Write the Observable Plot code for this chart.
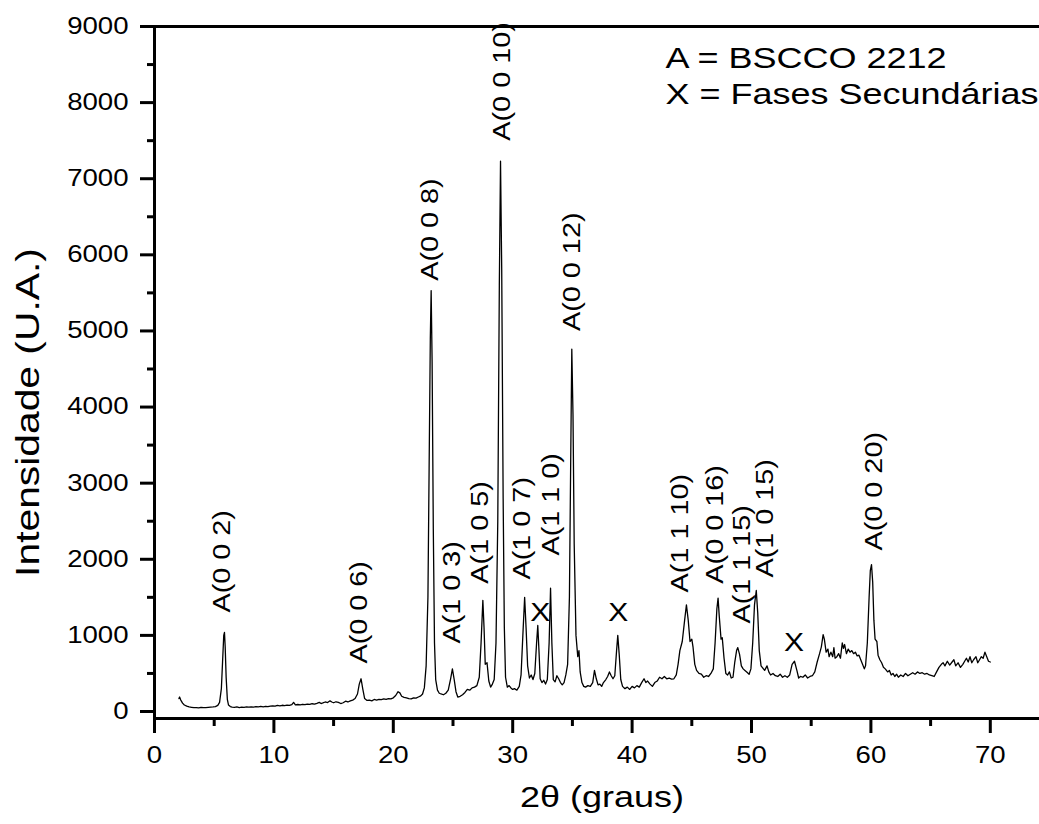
<!DOCTYPE html>
<html>
<head>
<meta charset="utf-8">
<script src="https://cdn.jsdelivr.net/npm/d3@7"></script>
<script src="https://cdn.jsdelivr.net/npm/@observablehq/plot@0.6"></script>
<style>
  body { margin: 0; background: #fff; }
  svg { display: block; }
</style>
</head>
<body>
<div id="chart"></div>
<script>
// XRD scan of the BSCCO 2212 sample: [2θ (degrees), intensity (U.A.)]
const scan = [
  [2.05,170],[2.1,190],[2.2,150],[2.35,110],[2.5,85],[2.7,70],[2.9,60],[3.1,55],[3.3,50],[3.5,52],
  [3.7,48],[3.9,55],[4.1,50],[4.3,52],[4.5,55],[4.7,58],[4.9,60],[5.1,65],[5.3,80],[5.45,120],
  [5.6,300],[5.7,650],[5.8,1000],[5.86,1040],[5.92,850],[6.0,450],[6.1,160],[6.2,85],[6.35,65],[6.5,58],
  [6.7,55],[6.9,60],[7.1,52],[7.3,58],[7.5,55],[7.7,60],[7.9,57],[8.1,62],[8.3,58],[8.5,65],
  [8.7,60],[8.9,66],[9.1,62],[9.3,68],[9.5,64],[9.7,70],[9.9,75],[10.1,70],[10.3,80],[10.5,74],
  [10.7,82],[10.9,78],[11.1,85],[11.3,80],[11.5,90],[11.65,120],[11.8,88],[12.0,92],[12.2,86],[12.4,95],
  [12.6,90],[12.8,98],[13.0,93],[13.2,102],[13.4,97],[13.6,108],[13.8,120],[13.95,105],[14.1,112],[14.3,125],
  [14.5,118],[14.7,140],[14.85,125],[15.0,115],[15.2,128],[15.4,120],[15.6,105],[15.8,115],[16.0,135],[16.2,125],
  [16.4,140],[16.6,150],[16.8,170],[17.0,230],[17.15,360],[17.3,430],[17.45,290],[17.6,170],[17.8,145],[18.0,150],
  [18.2,140],[18.4,158],[18.6,150],[18.8,160],[19.0,155],[19.2,165],[19.4,158],[19.6,170],[19.8,165],[20.0,180],
  [20.2,210],[20.4,260],[20.55,245],[20.7,200],[20.9,185],[21.1,180],[21.3,170],[21.5,165],[21.7,180],[21.9,175],
  [22.1,190],[22.3,205],[22.45,230],[22.6,310],[22.75,600],[22.9,1500],[23.0,3200],[23.1,4900],[23.17,5530],[23.25,4600],
  [23.35,2400],[23.45,900],[23.55,420],[23.7,280],[23.85,240],[24.0,230],[24.2,220],[24.4,240],[24.6,280],[24.8,430],
  [24.95,560],[25.1,420],[25.25,260],[25.4,190],[25.6,200],[25.8,220],[26.0,250],[26.2,290],[26.4,280],[26.6,310],
  [26.8,320],[27.0,340],[27.2,450],[27.35,900],[27.5,1460],[27.6,1100],[27.7,620],[27.85,640],[28.0,400],[28.15,320],
  [28.3,360],[28.45,420],[28.6,900],[28.75,2500],[28.88,5600],[28.98,7230],[29.08,5800],[29.2,2800],[29.3,1100],[29.4,450],
  [29.55,320],[29.7,340],[29.85,310],[30.0,290],[30.15,300],[30.35,280],[30.55,330],[30.7,480],[30.85,1000],[31.0,1500],
  [31.12,1100],[31.25,600],[31.4,440],[31.55,480],[31.7,420],[31.85,500],[32.0,900],[32.1,1130],[32.2,800],[32.3,430],
  [32.45,380],[32.6,410],[32.75,360],[32.9,420],[33.05,900],[33.17,1620],[33.28,900],[33.4,420],[33.55,390],[33.7,470],
  [33.85,430],[34.0,380],[34.15,350],[34.3,380],[34.45,480],[34.6,620],[34.75,1500],[34.87,3500],[34.95,4760],[35.05,3900],
  [35.15,2200],[35.3,1000],[35.45,720],[35.55,800],[35.65,520],[35.8,380],[35.95,330],[36.1,320],[36.3,340],[36.5,330],
  [36.7,380],[36.85,540],[37.0,430],[37.15,350],[37.3,360],[37.45,330],[37.6,380],[37.8,420],[37.95,460],[38.1,520],
  [38.25,470],[38.4,430],[38.55,470],[38.7,800],[38.8,1000],[38.92,750],[39.05,420],[39.2,330],[39.4,300],[39.6,320],
  [39.8,290],[40.0,330],[40.2,310],[40.4,340],[40.6,320],[40.8,380],[41.0,430],[41.15,380],[41.3,400],[41.5,360],
  [41.7,330],[41.9,380],[42.1,400],[42.3,450],[42.5,430],[42.7,460],[42.9,430],[43.1,440],[43.3,425],[43.5,430],
  [43.7,480],[43.85,620],[44.0,800],[44.2,920],[44.4,1200],[44.55,1400],[44.7,1200],[44.85,920],[45.0,950],[45.1,850],
  [45.25,620],[45.4,540],[45.6,500],[45.8,490],[46.0,450],[46.2,470],[46.4,460],[46.6,500],[46.8,560],[46.95,900],
  [47.1,1350],[47.2,1490],[47.3,1250],[47.45,950],[47.55,970],[47.7,700],[47.85,500],[48.0,480],[48.15,520],[48.3,440],
  [48.45,450],[48.6,650],[48.75,800],[48.85,840],[49.0,750],[49.15,600],[49.3,560],[49.45,540],[49.6,520],[49.8,490],
  [49.95,560],[50.1,900],[50.25,1400],[50.4,1590],[50.52,1300],[50.65,800],[50.8,600],[50.95,570],[51.1,540],[51.3,600],
  [51.45,520],[51.6,480],[51.8,500],[52.0,470],[52.2,460],[52.4,490],[52.6,450],[52.8,470],[53.0,450],[53.2,480],
  [53.4,620],[53.6,660],[53.8,540],[53.95,440],[54.1,460],[54.3,450],[54.5,480],[54.7,440],[54.9,460],[55.1,470],
  [55.3,520],[55.5,650],[55.7,760],[55.85,850],[56.0,1010],[56.1,950],[56.25,780],[56.4,820],[56.5,720],[56.65,780],
  [56.8,720],[56.9,840],[57.0,700],[57.15,720],[57.3,760],[57.45,700],[57.6,900],[57.7,830],[57.8,880],[57.95,760],
  [58.1,820],[58.25,780],[58.4,800],[58.55,760],[58.7,780],[58.85,730],[59.0,740],[59.15,680],[59.3,620],[59.45,560],
  [59.55,600],[59.7,900],[59.85,1500],[59.95,1850],[60.05,1930],[60.15,1700],[60.25,1200],[60.35,950],[60.5,920],[60.6,740],
  [60.75,680],[60.9,640],[61.05,580],[61.2,560],[61.4,520],[61.55,540],[61.7,480],[61.85,500],[62.0,460],[62.15,490],
  [62.3,450],[62.5,480],[62.7,460],[62.9,500],[63.1,470],[63.3,490],[63.5,510],[63.7,490],[63.9,520],[64.1,500],
  [64.3,510],[64.5,490],[64.7,500],[64.9,480],[65.1,470],[65.3,460],[65.5,520],[65.7,580],[65.9,620],[66.05,640],
  [66.2,600],[66.4,660],[66.6,610],[66.8,650],[66.95,680],[67.1,600],[67.3,640],[67.5,580],[67.7,620],[67.85,660],
  [68.0,700],[68.15,650],[68.3,720],[68.45,640],[68.6,680],[68.8,720],[68.95,640],[69.1,680],[69.25,720],[69.4,700],
  [69.55,780],[69.7,720],[69.85,660],[70.0,650]
];

// Miller indices of the BSCCO 2212 reflections, with the 2θ and intensity where each label starts
const reflections = ["A(0 0 2)","A(0 0 6)","A(0 0 8)","A(1 0 3)","A(1 0 5)","A(0 0 10)","A(1 0 7)",
                     "A(1 1 0)","A(0 0 12)","A(1 1 10)","A(0 0 16)","A(1 1 15)","A(1 0 15)","A(0 0 20)"];
const reflectionAngle = [5.7, 17.17, 23.1, 24.93, 27.3, 29.15, 30.8, 33.25, 35.0, 44.05, 47.0, 49.22, 51.17, 60.3];
const reflectionLevel = [1300, 630, 5660, 893, 1680, 7500, 1735, 2050, 5000, 1565, 1680, 1156, 1760, 2116];

// Secondary-phase peaks
const secondaryAngle = [32.3, 38.83, 53.56];
const secondaryLevel = [1300, 1290, 906];

const legendLines = ["A = BSCCO 2212", "X = Fases Secundárias"];

const xMajor = d3.range(0, 71, 10);
const xMinor = d3.range(5, 76, 10);
const yMajor = d3.range(0, 9001, 1000);
const yMinor = d3.range(500, 9000, 1000);
const xDomain = [0, 74.12];
const yDomain = [-92, 9000];

const points = scan.map(([t, i]) => ({t, i}));
const labels = reflections.map((hkl, k) => ({hkl, angle: reflectionAngle[k], at: reflectionLevel[k]}));
const phases = secondaryAngle.map((angle, k) => ({angle, at: secondaryLevel[k]}));

const chart = Plot.plot({
  width: 1039,
  height: 824,
  marginLeft: 154,
  marginRight: 0,
  marginTop: 26,
  marginBottom: 106,
  style: {fontFamily: "Arial, 'Liberation Sans', sans-serif", background: "white", color: "black", overflow: "visible"},
  x: {domain: xDomain},
  y: {domain: yDomain},
  marks: [
    Plot.axisX({ticks: xMajor, tickSize: 15, tickPadding: 13, strokeWidth: 3, fontSize: 23, tickFormat: "d", label: null}),
    Plot.axisX({ticks: xMinor, tickSize: 8, strokeWidth: 3, tickFormat: () => "", label: null}),
    Plot.axisY({ticks: yMajor, tickSize: 14, tickPadding: 12, strokeWidth: 3, fontSize: 23, tickFormat: "d", label: null}),
    Plot.axisY({ticks: yMinor, tickSize: 7, strokeWidth: 3, tickFormat: () => "", label: null}),
    Plot.ruleX([xDomain[0]], {strokeWidth: 3}),
    Plot.ruleY(yDomain, {strokeWidth: 3}),
    Plot.line(points, {x: "t", y: "i", stroke: "black", strokeWidth: 1.3}),
    Plot.text(labels, {x: "angle", y: "at", text: "hkl", rotate: -90, textAnchor: "start", fontSize: 24}),
    Plot.text(phases, {x: "angle", y: "at", text: () => "X", fontSize: 25}),
    Plot.text([legendLines.join("\n")], {frameAnchor: "top-left", textAnchor: "start", lineAnchor: "top",
      dx: 511, dy: 17, fontSize: 30, lineHeight: 1.17}),
    Plot.text(["Intensidade (U.A.)"], {frameAnchor: "left", rotate: -90, textAnchor: "middle",
      dx: -126, dy: 40, fontSize: 34}),
    Plot.text(["2θ (graus)"], {frameAnchor: "bottom", dx: 5, dy: 88, fontSize: 30})
  ]
});

// Widen every glyph along its reading direction, like the original plotting software's lettering
for (const t of chart.querySelectorAll("text")) {
  let tr = t.getAttribute("transform") || "";
  const x = t.getAttribute("x");
  if (x != null && x.trim() !== "" && !isNaN(+x)) {
    tr += ` translate(${+x},0)`;
    t.removeAttribute("x");
  }
  t.setAttribute("transform", (tr + " scale(1.2,1)").trim());
}

document.getElementById("chart").appendChild(chart);
</script>
</body>
</html>
